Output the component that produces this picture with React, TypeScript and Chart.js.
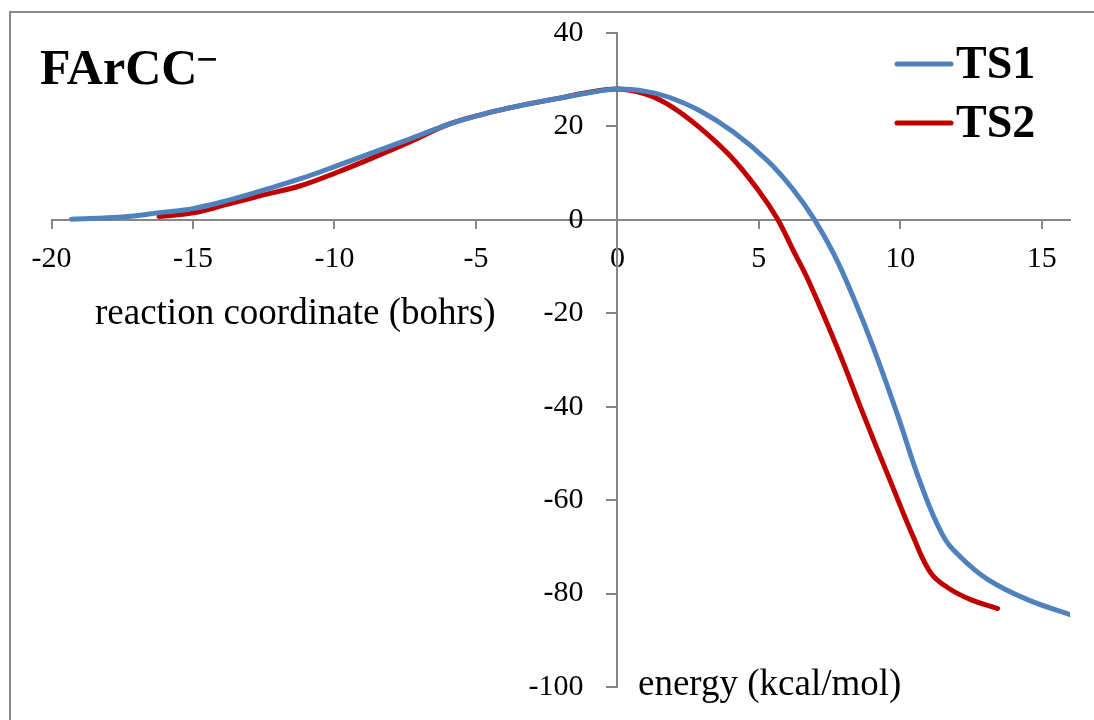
import React, { useEffect, useRef } from "react";
import { Chart, registerables } from "chart.js";

Chart.register(...registerables);

const seriesLabels = ["TS1", "TS2"];
const ts1X = [-19.3, -17.5, -16.1, -15, -13.8, -12.6, -11.2, -9.9, -8.6, -7.3, -6.0, -4.7, -3.4, -2.1, -1.0, 0, 1.0, 1.8, 2.9, 4.1, 5.3, 6.2, 6.95, 7.65, 8.35, 9.06, 9.9, 10.7, 11.5, 12.1, 13.1, 14.5, 16.0];
const ts1Y = [0.15, 0.6, 1.6, 2.4, 4.1, 6.2, 8.8, 11.6, 14.5, 17.4, 20.4, 22.7, 24.5, 26.0, 27.2, 28.0, 27.5, 26.3, 23.4, 18.8, 12.7, 6.6, 0.2, -7.3, -16.7, -27.5, -41.7, -56.1, -67.5, -72.0, -77.0, -81.3, -84.5];
const ts2X = [-16.2, -15, -13.8, -12.6, -11.2, -9.9, -8.6, -7.3, -6.0, -4.7, -3.4, -2.1, -1.0, 0, 1.0, 1.9, 2.9, 4.0, 5.0, 5.66, 6.23, 6.76, 7.78, 8.7, 9.66, 10.47, 11.07, 11.67, 12.49, 13.44];
const ts2Y = [0.7, 1.5, 3.3, 5.2, 7.3, 10.2, 13.4, 16.8, 20.4, 22.7, 24.5, 26.0, 27.3, 28.0, 26.9, 24.3, 19.8, 13.6, 6.2, 0.2, -6.7, -13.1, -27.5, -41.7, -56.1, -68.0, -75.5, -78.7, -81.3, -83.2];
const chartTitle = "FArCC";
const titleCharge = "\u2212";
const xAxisTitle = "reaction coordinate (bohrs)";
const yAxisTitle = "energy (kcal/mol)";
const xRange = [-20, 16];
const yRange = [-100, 40];

const SERIF = "'Liberation Serif', 'Times New Roman', serif";
const AXIS_GRAY = "#868686";

const decorPlugin = {
  id: "decor",
  beforeDraw(chart: any) {
    const ctx = chart.ctx;
    ctx.save();
    ctx.strokeStyle = "#888888";
    ctx.lineWidth = 2;
    ctx.beginPath();
    ctx.moveTo(10, 720);
    ctx.lineTo(10, 12);
    ctx.lineTo(1094, 12);
    ctx.stroke();
    ctx.restore();
  },
  afterDraw(chart: any) {
    const ctx = chart.ctx;
    ctx.save();
    ctx.fillStyle = "#000";
    ctx.textBaseline = "alphabetic";
    ctx.textAlign = "left";
    ctx.font = "bold 50px " + SERIF;
    ctx.fillText(chartTitle, 40, 84);
    const w = ctx.measureText(chartTitle).width;
    ctx.font = "bold 38px " + SERIF;
    ctx.fillText(titleCharge, 40 + w - 1, 72);
    ctx.font = "37px " + SERIF;
    ctx.textBaseline = "middle";
    ctx.fillText(xAxisTitle, 95, 314);
    ctx.fillText(yAxisTitle, 638, 685);
    const ds = chart.data.datasets;
    ctx.font = "bold 46px " + SERIF;
    ds.forEach((d: any, i: number) => {
      const y = 64 + i * 59;
      ctx.strokeStyle = d.borderColor;
      ctx.lineWidth = 5;
      ctx.lineCap = "round";
      ctx.beginPath();
      ctx.moveTo(897, y);
      ctx.lineTo(951, y);
      ctx.stroke();
      ctx.fillStyle = "#000";
      ctx.fillText(d.label, 956, y + 2);
    });
    ctx.restore();
  },
};

export default function App() {
  const ref = useRef<HTMLCanvasElement | null>(null);
  useEffect(() => {
    const canvas = ref.current;
    if (!canvas) return;
    const lineDs = (label: string, xs: number[], ys: number[], color: string) => ({
      label,
      data: xs.map((x, i) => ({ x, y: ys[i] })),
      borderColor: color,
      backgroundColor: color,
      borderWidth: 5,
      showLine: true,
      pointRadius: 0,
      tension: 0.4,
      borderCapStyle: "round",
      borderJoinStyle: "round",
    });
    const chart = new Chart(canvas, {
      type: "scatter",
      data: {
        datasets: [
          lineDs(seriesLabels[0], ts1X, ts1Y, "#4F81BD"),
          lineDs(seriesLabels[1], ts2X, ts2Y, "#C00000"),
        ],
      },
      options: {
        animation: false,
        responsive: false,
        maintainAspectRatio: false,
        layout: { padding: { left: 51.6, right: 24, top: 33, bottom: 33 } },
        plugins: { legend: { display: false }, tooltip: { enabled: false } },
        scales: {
          x: {
            type: "linear",
            min: xRange[0],
            max: xRange[1],
            position: { y: 0 },
            ticks: {
              stepSize: 5,
              includeBounds: false,
              color: "#000",
              font: { family: SERIF, size: 30 },
              padding: 13,
              maxRotation: 0,
            },
            grid: { drawOnChartArea: false, drawTicks: true, tickLength: 8, color: AXIS_GRAY, lineWidth: 2 },
            border: { color: AXIS_GRAY, width: 2 },
          },
          y: {
            type: "linear",
            min: yRange[0],
            max: yRange[1],
            position: { x: 0 },
            ticks: { stepSize: 20, display: false },
            grid: { drawOnChartArea: false, drawTicks: true, tickLength: 10, color: AXIS_GRAY, lineWidth: 2 },
            border: { color: AXIS_GRAY, width: 2 },
          },
          yLabels: {
            type: "linear",
            axis: "y",
            min: yRange[0],
            max: yRange[1],
            position: { x: -1.2 },
            ticks: {
              stepSize: 20,
              color: "#000",
              font: { family: SERIF, size: 30 },
            },
            grid: { display: false, drawTicks: false },
            border: { display: false },
          },
        },
      },
      plugins: [decorPlugin],
    } as any);
    return () => chart.destroy();
  }, []);
  return (
    <div style={{ position: "fixed", left: 0, top: 0, width: 1094, height: 720, background: "#fff" }}>
      <canvas ref={ref} width={1094} height={720} style={{ display: "block" }} />
    </div>
  );
}
